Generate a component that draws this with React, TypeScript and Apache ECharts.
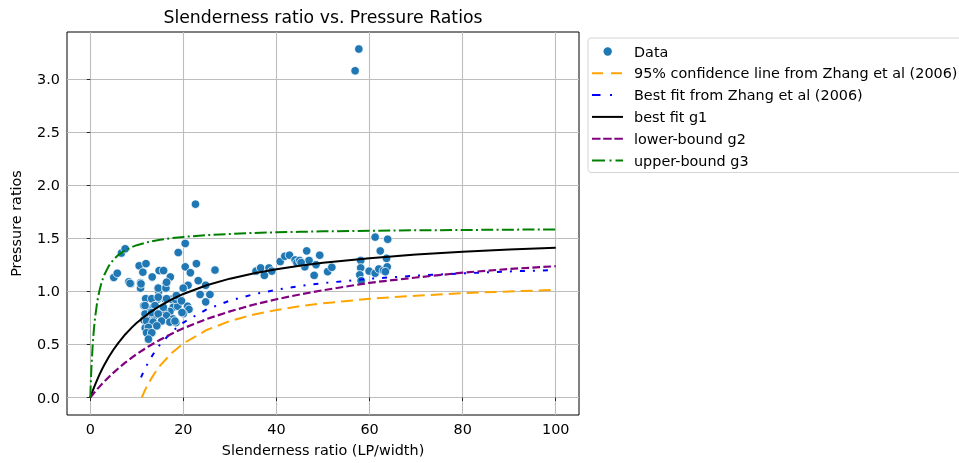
import React, { useEffect, useRef } from "react";
import * as echarts from "echarts";

const xTicks = [0, 20, 40, 60, 80, 100];
const yTicks = [0, 0.5, 1.0, 1.5, 2.0, 2.5, 3.0];

const slenderness = [57.7, 56.9, 22.6, 5.06, 5.8, 6.7, 7.5, 8.3, 8.7, 10.5, 10.8, 10.8, 11.3, 11.97, 13.3, 14.8, 15.75, 16.2, 17.2, 14.5, 14.7, 16.0, 18.9, 20.4, 20.4, 21.5, 22.8, 23.2, 24.8, 23.6, 25.7, 24.8, 26.8, 21.0, 19.96, 12.0, 11.5, 12.3, 13.5, 14.4, 16.1, 17.5, 17.8, 18.8, 18.3, 20.9, 21.2, 20.0, 11.5, 12.5, 12.8, 13.8, 14.3, 11.8, 12.3, 12.5, 13.3, 16.5, 17.7, 17.3, 18.4, 15.2, 16.3, 17.1, 15.75, 13.8, 35.6, 36.6, 37.4, 38.4, 39.0, 40.8, 41.8, 42.8, 44.0, 44.4, 45.0, 46.1, 46.5, 47.0, 48.1, 48.5, 49.3, 51.0, 51.9, 45.3, 58.1, 58.1, 57.9, 58.2, 59.9, 61.2, 61.2, 62.0, 62.3, 63.0, 63.65, 63.8, 63.9, 63.4, 8.55, 10.9, 14.6, 16.25, 16.4, 11.9, 13.2, 14.6, 16.4, 18.5, 11.76, 13.9, 15.7, 11.76, 13.2, 14.6, 16.4, 17.8, 12.1, 13.5, 15.3, 17.1, 18.2, 12.5, 14.3, 12.1, 13.2, 12.5, 19.7, 19.6];
const pressure = [3.28, 3.075, 1.82, 1.13, 1.17, 1.36, 1.40, 1.09, 1.07, 1.24, 1.08, 1.03, 1.18, 1.26, 1.135, 1.195, 1.195, 1.07, 1.135, 1.03, 1.0, 1.03, 1.365, 1.45, 1.23, 1.175, 1.26, 1.10, 1.057, 0.97, 0.97, 0.90, 1.20, 1.057, 1.03, 0.93, 0.865, 0.80, 0.85, 0.925, 0.925, 0.925, 0.85, 0.86, 0.925, 0.86, 0.83, 0.79, 0.73, 0.755, 0.70, 0.77, 0.675, 0.655, 0.60, 0.55, 0.61, 0.73, 0.72, 0.755, 0.705, 0.77, 0.75, 0.81, 0.82, 0.82, 1.19, 1.22, 1.15, 1.22, 1.19, 1.28, 1.33, 1.34, 1.295, 1.27, 1.29, 1.23, 1.38, 1.29, 1.15, 1.25, 1.34, 1.185, 1.226, 1.27, 1.29, 1.22, 1.155, 1.10, 1.19, 1.51, 1.17, 1.21, 1.38, 1.195, 1.31, 1.23, 1.49, 1.185, 1.075, 1.07, 1.03, 1.03, 1.085, 0.93, 0.93, 0.945, 0.93, 0.96, 0.865, 0.865, 0.85, 0.787, 0.80, 0.787, 0.77, 0.74, 0.72, 0.71, 0.72, 0.71, 0.72, 0.66, 0.675, 0.61, 0.61, 0.55, 0.80, 0.91];

const curveX = [0, 0.1, 0.25, 0.5, 0.75, 1, 1.5, 2, 2.5, 3, 4, 5, 6, 7.5, 9, 10, 12.5, 15, 17.5, 20, 25, 30, 35, 40, 45, 50, 60, 70, 80, 90, 100];
const bestFitG1 = [0, 0.0125, 0.031, 0.061, 0.0895, 0.117, 0.169, 0.218, 0.264, 0.306, 0.384, 0.452, 0.513, 0.594, 0.663, 0.704, 0.792, 0.864, 0.924, 0.975, 1.057, 1.119, 1.168, 1.208, 1.241, 1.269, 1.312, 1.346, 1.372, 1.393, 1.41];
const lowerG2 = [0, 0.0055, 0.0137, 0.0271, 0.0403, 0.0533, 0.0786, 0.103, 0.127, 0.15, 0.194, 0.235, 0.274, 0.328, 0.378, 0.41, 0.481, 0.544, 0.601, 0.652, 0.739, 0.811, 0.873, 0.925, 0.97, 1.01, 1.08, 1.13, 1.175, 1.21, 1.236];
const upperG3 = [0, 0.127, 0.284, 0.482, 0.628, 0.741, 0.902, 1.013, 1.093, 1.154, 1.24, 1.299, 1.341, 1.386, 1.417, 1.434, 1.464, 1.485, 1.501, 1.512, 1.529, 1.54, 1.549, 1.555, 1.56, 1.564, 1.57, 1.574, 1.577, 1.58, 1.582];

const zhangFitX = [10.9, 11.5, 12.5, 13.5, 15, 17.5, 20, 25, 30, 35, 40, 45, 50, 60, 70, 80, 90, 100];
const zhangFitY = [0.19, 0.249, 0.335, 0.408, 0.5, 0.618, 0.706, 0.83, 0.912, 0.971, 1.015, 1.049, 1.077, 1.118, 1.147, 1.169, 1.187, 1.2];

const zhangConfX = [11.05, 11.5, 12, 12.5, 13, 14, 15, 17.5, 20, 25, 30, 35, 40, 45, 50, 60, 70, 80, 90, 100];
const zhangConfY = [0, 0.045, 0.091, 0.133, 0.171, 0.24, 0.3, 0.42, 0.51, 0.636, 0.72, 0.78, 0.824, 0.859, 0.887, 0.929, 0.959, 0.982, 0.999, 1.013];

const names = [
  "Data",
  "95% confidence line from Zhang et al (2006)",
  "Best fit from Zhang et al (2006)",
  "best fit g1",
  "lower-bound g2",
  "upper-bound g3",
];

const FONT = "DejaVu Sans";
const BOX = "M0,0M31,14";
const icons = [
  "path://" + BOX + "M11.5,7a4.2,4.2 0 1,0 8.4,0a4.2,4.2 0 1,0 -8.4,0Z",
  "path://" + BOX + "M0,6h11v2h-11zM19,6h11v2h-11z",
  "path://" + BOX + "M0,6h8.5v2h-8.5zM18,6h2v2h-2z",
  "path://" + BOX + "M0,6h31v2h-31z",
  "path://" + BOX + "M0,6h8.5v2h-8.5zM11.2,6h8.5v2h-8.5zM22.4,6h8.5v2h-8.5z",
  "path://" + BOX + "M0,6h13v2h-13zM17.5,6h2v2h-2zM23.5,6h7.5v2h-7.5z",
];

function pairs(xs: number[], ys: number[]) {
  return xs.map((x, i) => [x, ys[i]]);
}

export default function App() {
  const ref = useRef<HTMLDivElement>(null);
  useEffect(() => {
    if (!ref.current) return;
    const chart = echarts.init(ref.current, undefined, { renderer: "svg" });
    const lineSeries = (name: string, xs: number[], ys: number[], color: string, width: number, type: any) => ({
      name,
      type: "line",
      data: pairs(xs, ys),
      symbol: "none",
      smooth: false,
      lineStyle: { color, width, type },
      itemStyle: { color },
      z: 3,
    });
    chart.setOption({
      animation: false,
      graphic: [
        {
          type: "text",
          x: 323,
          y: 17,
          style: {
            text: "Slenderness ratio vs. Pressure Ratios",
            fontSize: 17.3,
            fontFamily: FONT,
            fill: "#000",
            align: "center",
            verticalAlign: "middle",
          },
        },
      ],
      grid: {
        left: 67,
        top: 32,
        right: 380,
        bottom: 48,
        show: true,
        borderColor: "#000",
        borderWidth: 1,
        backgroundColor: "transparent",
        containLabel: false,
      },
      xAxis: {
        type: "value",
        min: -5,
        max: 105,
        name: "Slenderness ratio (LP/width)",
        nameLocation: "middle",
        nameGap: 28,
        nameTextStyle: { fontSize: 14.4, fontFamily: FONT, color: "#000" },
        axisLine: { show: false },
        axisTick: { show: true, length: 3.5, lineStyle: { color: "#000", width: 0.8 }, customValues: xTicks },
        axisLabel: { customValues: xTicks, fontSize: 14.4, fontFamily: FONT, color: "#000", margin: 7 },
        splitLine: { show: true, lineStyle: { color: "#bdbdbd", width: 1.1 } },
      },
      yAxis: {
        type: "value",
        min: -0.164,
        max: 3.44,
        name: "Pressure ratios",
        nameLocation: "middle",
        nameGap: 44,
        nameTextStyle: { fontSize: 14.4, fontFamily: FONT, color: "#000" },
        axisLine: { show: false },
        axisTick: { show: true, length: 3.5, lineStyle: { color: "#000", width: 0.8 }, customValues: yTicks },
        axisLabel: {
          customValues: yTicks,
          fontSize: 14.4,
          fontFamily: FONT,
          color: "#000",
          margin: 7,
          formatter: (v: number) => v.toFixed(1),
        },
        splitLine: { show: true, lineStyle: { color: "#bdbdbd", width: 1.1 } },
      },
      legend: {
        orient: "vertical",
        left: 588,
        top: 38,
        padding: [6.5, 14, 5, 4],
        itemGap: 7.8,
        itemWidth: 31,
        itemHeight: 14,
        backgroundColor: "#fff",
        borderColor: "#d5d5d5",
        borderWidth: 1,
        borderRadius: 3,
        itemStyle: { borderWidth: 0 },
        textStyle: { fontSize: 14.4, fontFamily: FONT, color: "#000", padding: [0, 0, 0, 6] },
        data: names.map((n, i) => ({ name: n, icon: icons[i] })),
      },
      series: [
        {
          name: names[0],
          type: "scatter",
          data: pairs(slenderness, pressure),
          symbolSize: 8.5,
          itemStyle: { color: "#1f77b4", borderColor: "#ffffff", borderWidth: 0.8, opacity: 1 },
          z: 2,
        },
        lineSeries(names[1], zhangConfX, zhangConfY, "#FFA500", 2, [12, 6]),
        lineSeries(names[2], zhangFitX, zhangFitY, "#0000FF", 2, [5, 8, 2, 8]),
        lineSeries(names[3], curveX, bestFitG1, "#000000", 2, "solid"),
        lineSeries(names[4], curveX, lowerG2, "#800080", 2.2, [7.7, 3.3]),
        lineSeries(names[5], curveX, upperG3, "#008000", 2, [12, 3.3, 2, 3.3]),
      ],
    });
    return () => chart.dispose();
  }, []);
  return <div ref={ref} style={{ position: "fixed", left: 0, top: 0, width: 959, height: 463 }} />;
}
